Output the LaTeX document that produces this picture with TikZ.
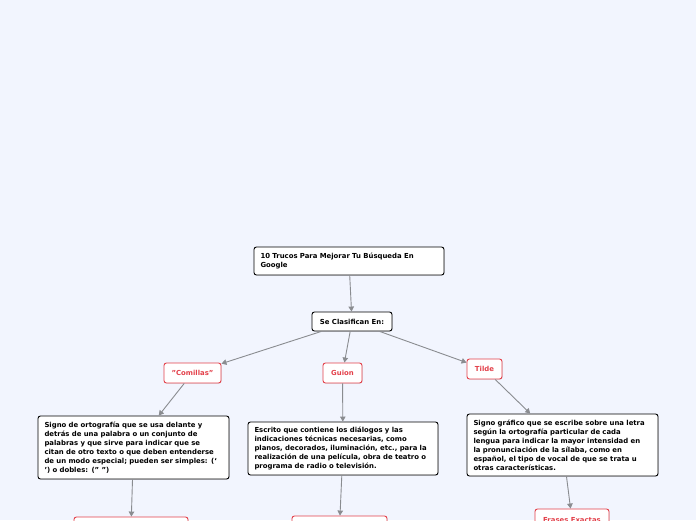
\documentclass[tikz,border=0pt]{standalone}
\usepackage{fontspec}
\setmainfont{DejaVu Sans}
\usepackage{tikz}
\usetikzlibrary{arrows.meta, shadows}

\definecolor{bgcol}{HTML}{F2F5FE}
\definecolor{redcol}{HTML}{E3404A}
\definecolor{linkcol}{HTML}{8A8C90}

\tikzset{
  topicbox/.style={draw=black, fill=white, rounded corners=2.5pt, line width=0.9pt,
    font=\fontsize{6.9}{9}\selectfont\bfseries, inner xsep=6.5pt, inner ysep=0pt,
    align=left, execute at begin node={\hyphenpenalty=10000\exhyphenpenalty=10000},
    drop shadow={shadow xshift=0.6pt, shadow yshift=-0.6pt, opacity=0.25}},
  labelbox/.style={draw=redcol, fill=white, rounded corners=2.5pt, line width=0.9pt,
    text=redcol, font=\fontsize{6.9}{9}\selectfont\bfseries, inner sep=0pt,
    drop shadow={shadow xshift=0.6pt, shadow yshift=-0.6pt, opacity=0.25}},
  link/.style={draw=linkcol, line width=0.9pt, -{Triangle[length=5pt,width=5.5pt]}}
}

\begin{document}
\begin{tikzpicture}[x=1pt, y=-1pt]
        \fill[bgcol] (0,0) rectangle (696,520);
        \useasboundingbox (0,0) rectangle (696,520);
        % centres of the boxes
        \coordinate (P0) at (349,261);
        \coordinate (P1) at (352,321.5);
        \coordinate (C0) at (192.5,373);
        \coordinate (G0) at (342.5,373);
        \coordinate (T0) at (484.5,369);
        \coordinate (C1) at (133.5,447.5);
        \coordinate (G1) at (343,448.5);
        \coordinate (T1) at (562.5,445);
        \node[topicbox, text width=177pt, minimum height=28pt, inner xsep=6.5pt] (title) at (P0)
          {10 Trucos Para Mejorar Tu Búsqueda En\\Google};
        \node[topicbox, minimum width=80pt, minimum height=19pt, inner xsep=0pt, align=center] (clas) at (P1)
          {Se Clasifican En:};
        \node[labelbox, minimum width=57pt, minimum height=20pt] (comillas) at (C0) {"Comillas"};
        \node[labelbox, minimum width=39pt, minimum height=20pt] (guion) at (G0) {Guion};
        \node[labelbox, minimum width=35pt, minimum height=20pt] (tilde) at (T0) {Tilde};
        \node[topicbox, text width=178pt, minimum height=63pt] (comdesc) at (C1)
          {Signo de ortografía que se usa delante y\\
           detrás de una palabra o un conjunto de\\
           palabras y que sirve para indicar que se\\
           citan de otro texto o que deben entenderse\\
           de un modo especial; pueden ser simples: (‘\\
           ’) o dobles: (" ")};
        \node[topicbox, text width=177pt, minimum height=53pt] (guidesc) at (G1)
          {Escrito que contiene los diálogos y las\\
           indicaciones técnicas necesarias, como\\
           planos, decorados, iluminación, etc., para la\\
           realización de una película, obra de teatro o\\
           programa de radio o televisión.};
        \node[topicbox, text width=178pt, minimum height=62pt] (tildesc) at (T1)
          {Signo gráfico que se escribe sobre una letra\\
           según la ortografía particular de cada\\
           lengua para indicar la mayor intensidad en\\
           la pronunciación de la sílaba, como en\\
           español, el tipo de vocal de que se trata u\\
           otras características.};
        % bottom row, cut by the page
        \node[labelbox, minimum width=114pt, minimum height=22pt] (nextL) at (131,528) {};
        \node[labelbox, minimum width=95pt, minimum height=22pt] (nextM) at (339.5,527) {};
        \node[labelbox, minimum width=74pt, minimum height=22pt] (frases) at (572,520) {Frases Exactas};
        \draw[link] (title) -- (clas);
        \draw[link] (clas) -- (comillas);
        \draw[link] (clas) -- (guion);
        \draw[link] (clas) -- (tilde);
        \draw[link] (comillas) -- (comdesc);
        \draw[link] (guion) -- (guidesc);
        \draw[link] (tilde) -- (tildesc);
        \draw[link] (comdesc) -- (nextL);
        \draw[link] (guidesc) -- (nextM);
        \draw[link] (tildesc) -- (frases);
    \end{tikzpicture}
\end{document}
